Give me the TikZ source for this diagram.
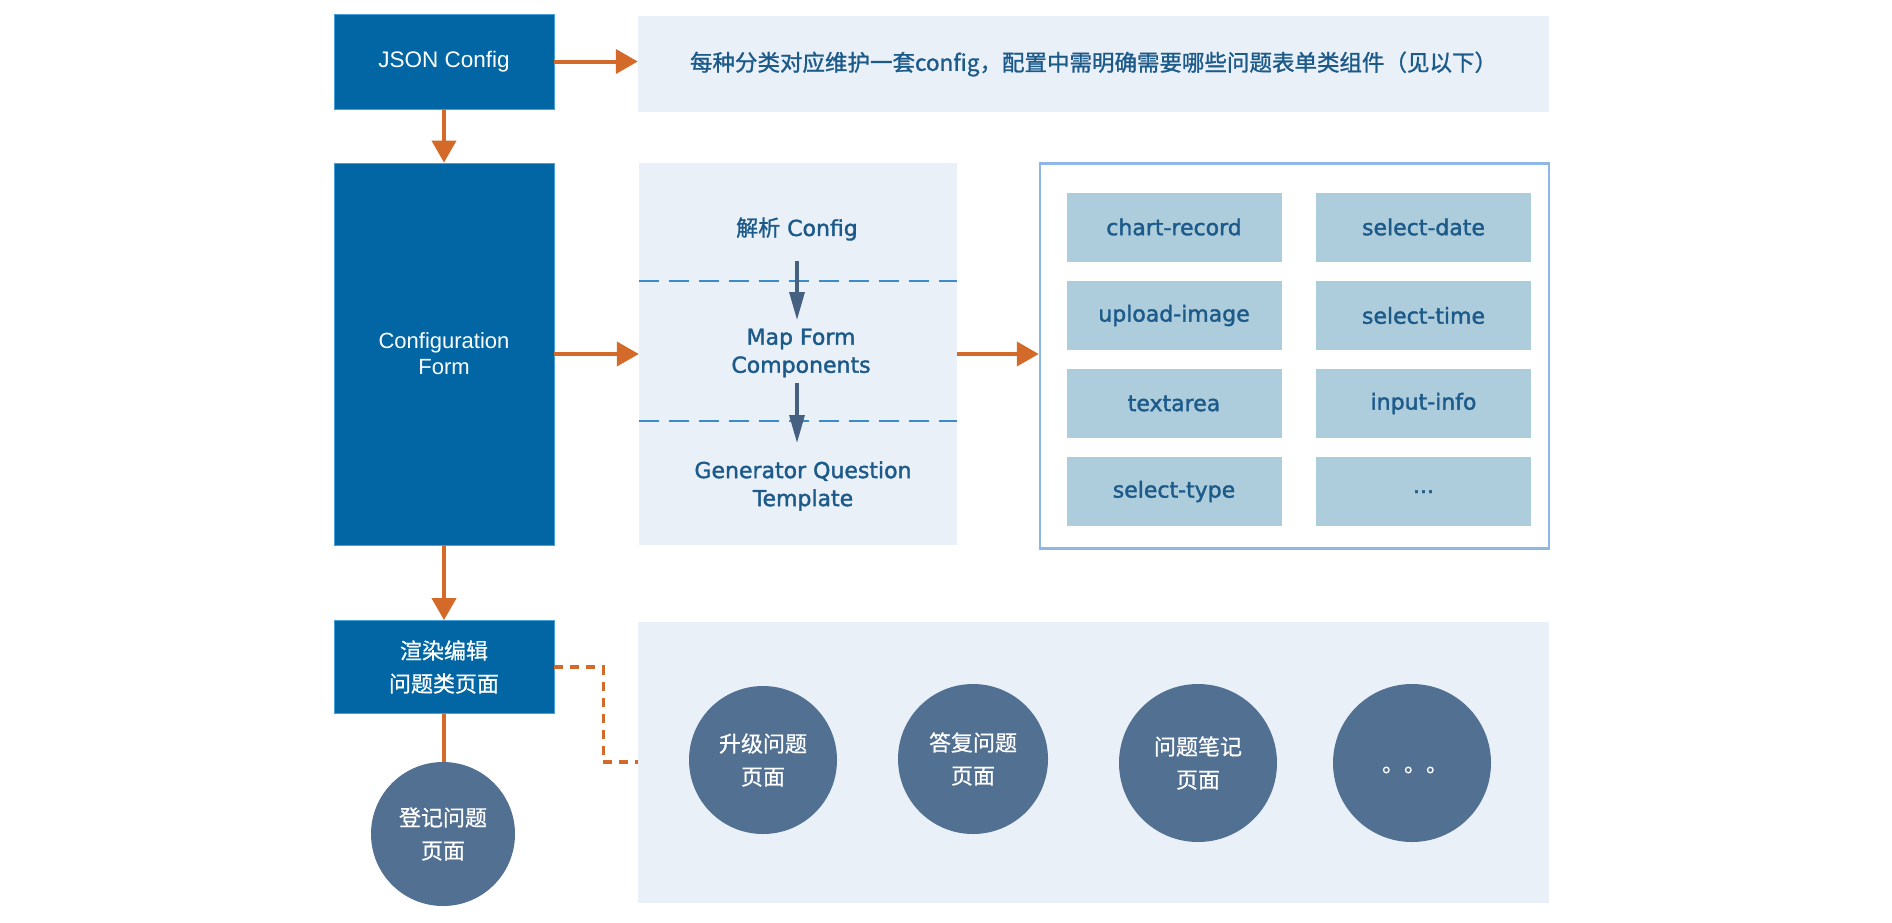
\documentclass[tikz,border=0pt]{standalone}
\usepackage{fontspec}
\setmainfont{DejaVu Sans}
\newfontfamily\semib[FakeBold=1.6]{DejaVu Sans}
\newfontfamily\cjk{Noto Sans CJK SC}
\newfontfamily\cjkb[FakeBold=1.2]{Noto Sans CJK SC}
\newfontfamily\cjkm[FakeBold=0.6]{Noto Sans CJK SC}
\newfontfamily\arialf{Liberation Sans}
\usetikzlibrary{arrows.meta}
\definecolor{dblue}{RGB}{1,102,163}
\definecolor{dborder}{RGB}{70,160,220}
\definecolor{orng}{RGB}{212,106,42}
\definecolor{lbg}{RGB}{234,240,248}
\definecolor{cbox}{RGB}{174,205,220}
\definecolor{circ}{RGB}{82,112,146}
\definecolor{txtb}{RGB}{28,90,138}
\definecolor{frame}{RGB}{141,184,230}
\definecolor{sepc}{RGB}{60,140,200}
\definecolor{sarr}{RGB}{69,96,128}
\begin{document}
\begin{tikzpicture}[x=1pt,y=-1pt,
  darkbox/.style={rectangle, fill=dblue, draw=dborder, line width=0.8pt, text=white, inner sep=0pt, align=center},
  bgbox/.style={rectangle, fill=lbg, inner sep=0pt, align=center},
  compbox/.style={rectangle, fill=cbox, minimum width=215pt, minimum height=69pt, inner sep=0pt, text=txtb, font=\semib\fontsize{22}{28}\selectfont},
  pagecirc/.style={circle, fill=circ, inner sep=0pt, text=white, align=center, font=\cjkm\fontsize{22}{33}\selectfont},
  midtxt/.style={inner sep=0pt, text=txtb, align=center, font=\semib\fontsize{22}{28}\selectfont},
  oarrow/.style={draw=orng, line width=4pt, -{Triangle[length=22pt,width=24pt]}},
  oline/.style={draw=orng, line width=4pt},
  odash/.style={draw=orng, line width=3.5pt, dash pattern=on 9pt off 7pt},
  sarrow/.style={draw=sarr, line width=3.3pt, -{Triangle[length=28pt,width=15pt]}},
  sepline/.style={draw=sepc, line width=1.5pt, dash pattern=on 20pt off 10pt}
]
\fill[white] (0,0) rectangle (1892,922);
\useasboundingbox (0,0) rectangle (1892,922);

% top row
\node[darkbox, minimum width=220pt, minimum height=95pt, font=\arialf\fontsize{22.5}{27}\selectfont] (json) at (444,61.5) {JSON Config};
\node[bgbox, minimum width=911pt, minimum height=96pt, text=txtb, font=\cjkb\fontsize{22.5}{27}\selectfont] (desc) at (1093.5,64) {每种分类对应维护一套config，配置中需明确需要哪些问题表单类组件（见以下）};

% middle row
\node[darkbox, minimum width=220pt, minimum height=382pt, font=\arialf\fontsize{22}{26}\selectfont] (cfg) at (444,354) {Configuration\\Form};
\node[bgbox, minimum width=318pt, minimum height=382pt] (mid) at (798,354) {};
\draw[sepline] ([yshift=73pt]mid.west) -- ([yshift=73pt]mid.east);
\draw[sepline] ([yshift=-67pt]mid.west) -- ([yshift=-67pt]mid.east);
\node[midtxt] (t1) at (797,229) {{\cjkb 解析} Config};
\node[midtxt] (t2) at (801,353) {Map Form\\Components};
\node[midtxt] (t3) at (803,486) {Generator Question\\Template};
\draw[sarrow] ([yshift=-32pt]t1.center) -- ([yshift=-91pt]t1.center);
\draw[sarrow] ([xshift=-4pt,yshift=-30pt]t2.center) -- ([xshift=-4pt,yshift=-90pt]t2.center);

\node[rectangle, draw=frame, line width=2.5pt, fill=white, minimum width=509pt, minimum height=385pt, inner sep=0pt] (comp) at (1294.5,356) {};
\node[compbox] (c11) at (1174,227) {chart-record};
\node[compbox] (c12) at (1423.5,227) {select-date};
\node[compbox] (c21) at (1174,315.5) {upload-image};
\node[compbox] (c22) at (1423.5,315.5) {select-time};
\node[compbox] (c31) at (1174,403.5) {textarea};
\node[compbox] (c32) at (1423.5,403.5) {input-info};
\node[compbox] (c41) at (1174,491.5) {select-type};
\node[compbox] (c42) at (1423.5,491.5) {\raisebox{-3pt}{...}};

% bottom row
\node[darkbox, minimum width=220pt, minimum height=93pt, font=\cjkm\fontsize{22}{33}\selectfont] (render) at (444,667) {渲染编辑\\问题类页面};
\node[pagecirc, minimum size=144pt] (reg) at (443,834) {登记问题\\页面};
\node[bgbox, minimum width=911pt, minimum height=281pt] (pages) at (1093.5,762) {};
\node[pagecirc, minimum size=148pt] (p1) at (763,760) {升级问题\\页面};
\node[pagecirc, minimum size=150pt] (p2) at (973,759) {答复问题\\页面};
\node[pagecirc, minimum size=158pt] (p3) at (1198,763) {问题笔记\\页面};
\node[pagecirc, minimum size=158pt] (p4) at (1412,763) {\hspace{6pt}\raisebox{-9pt}[0pt][0pt]{。。。}};

% connectors
\draw[oarrow] (json.east) -- (json.east -| desc.west);
\draw[oarrow] (json.south) -- (cfg.north);
\draw[oarrow] (cfg.east) -- (mid.west);
\draw[oarrow] (mid.east) -- (mid.east -| comp.west);
\draw[oarrow] (cfg.south) -- (render.north);
\draw[oline] (render.south) -- (reg.north -| render.south);
\draw[odash] (render.east) -- ++(49,0) |- (pages.west);
\end{tikzpicture}
\end{document}
